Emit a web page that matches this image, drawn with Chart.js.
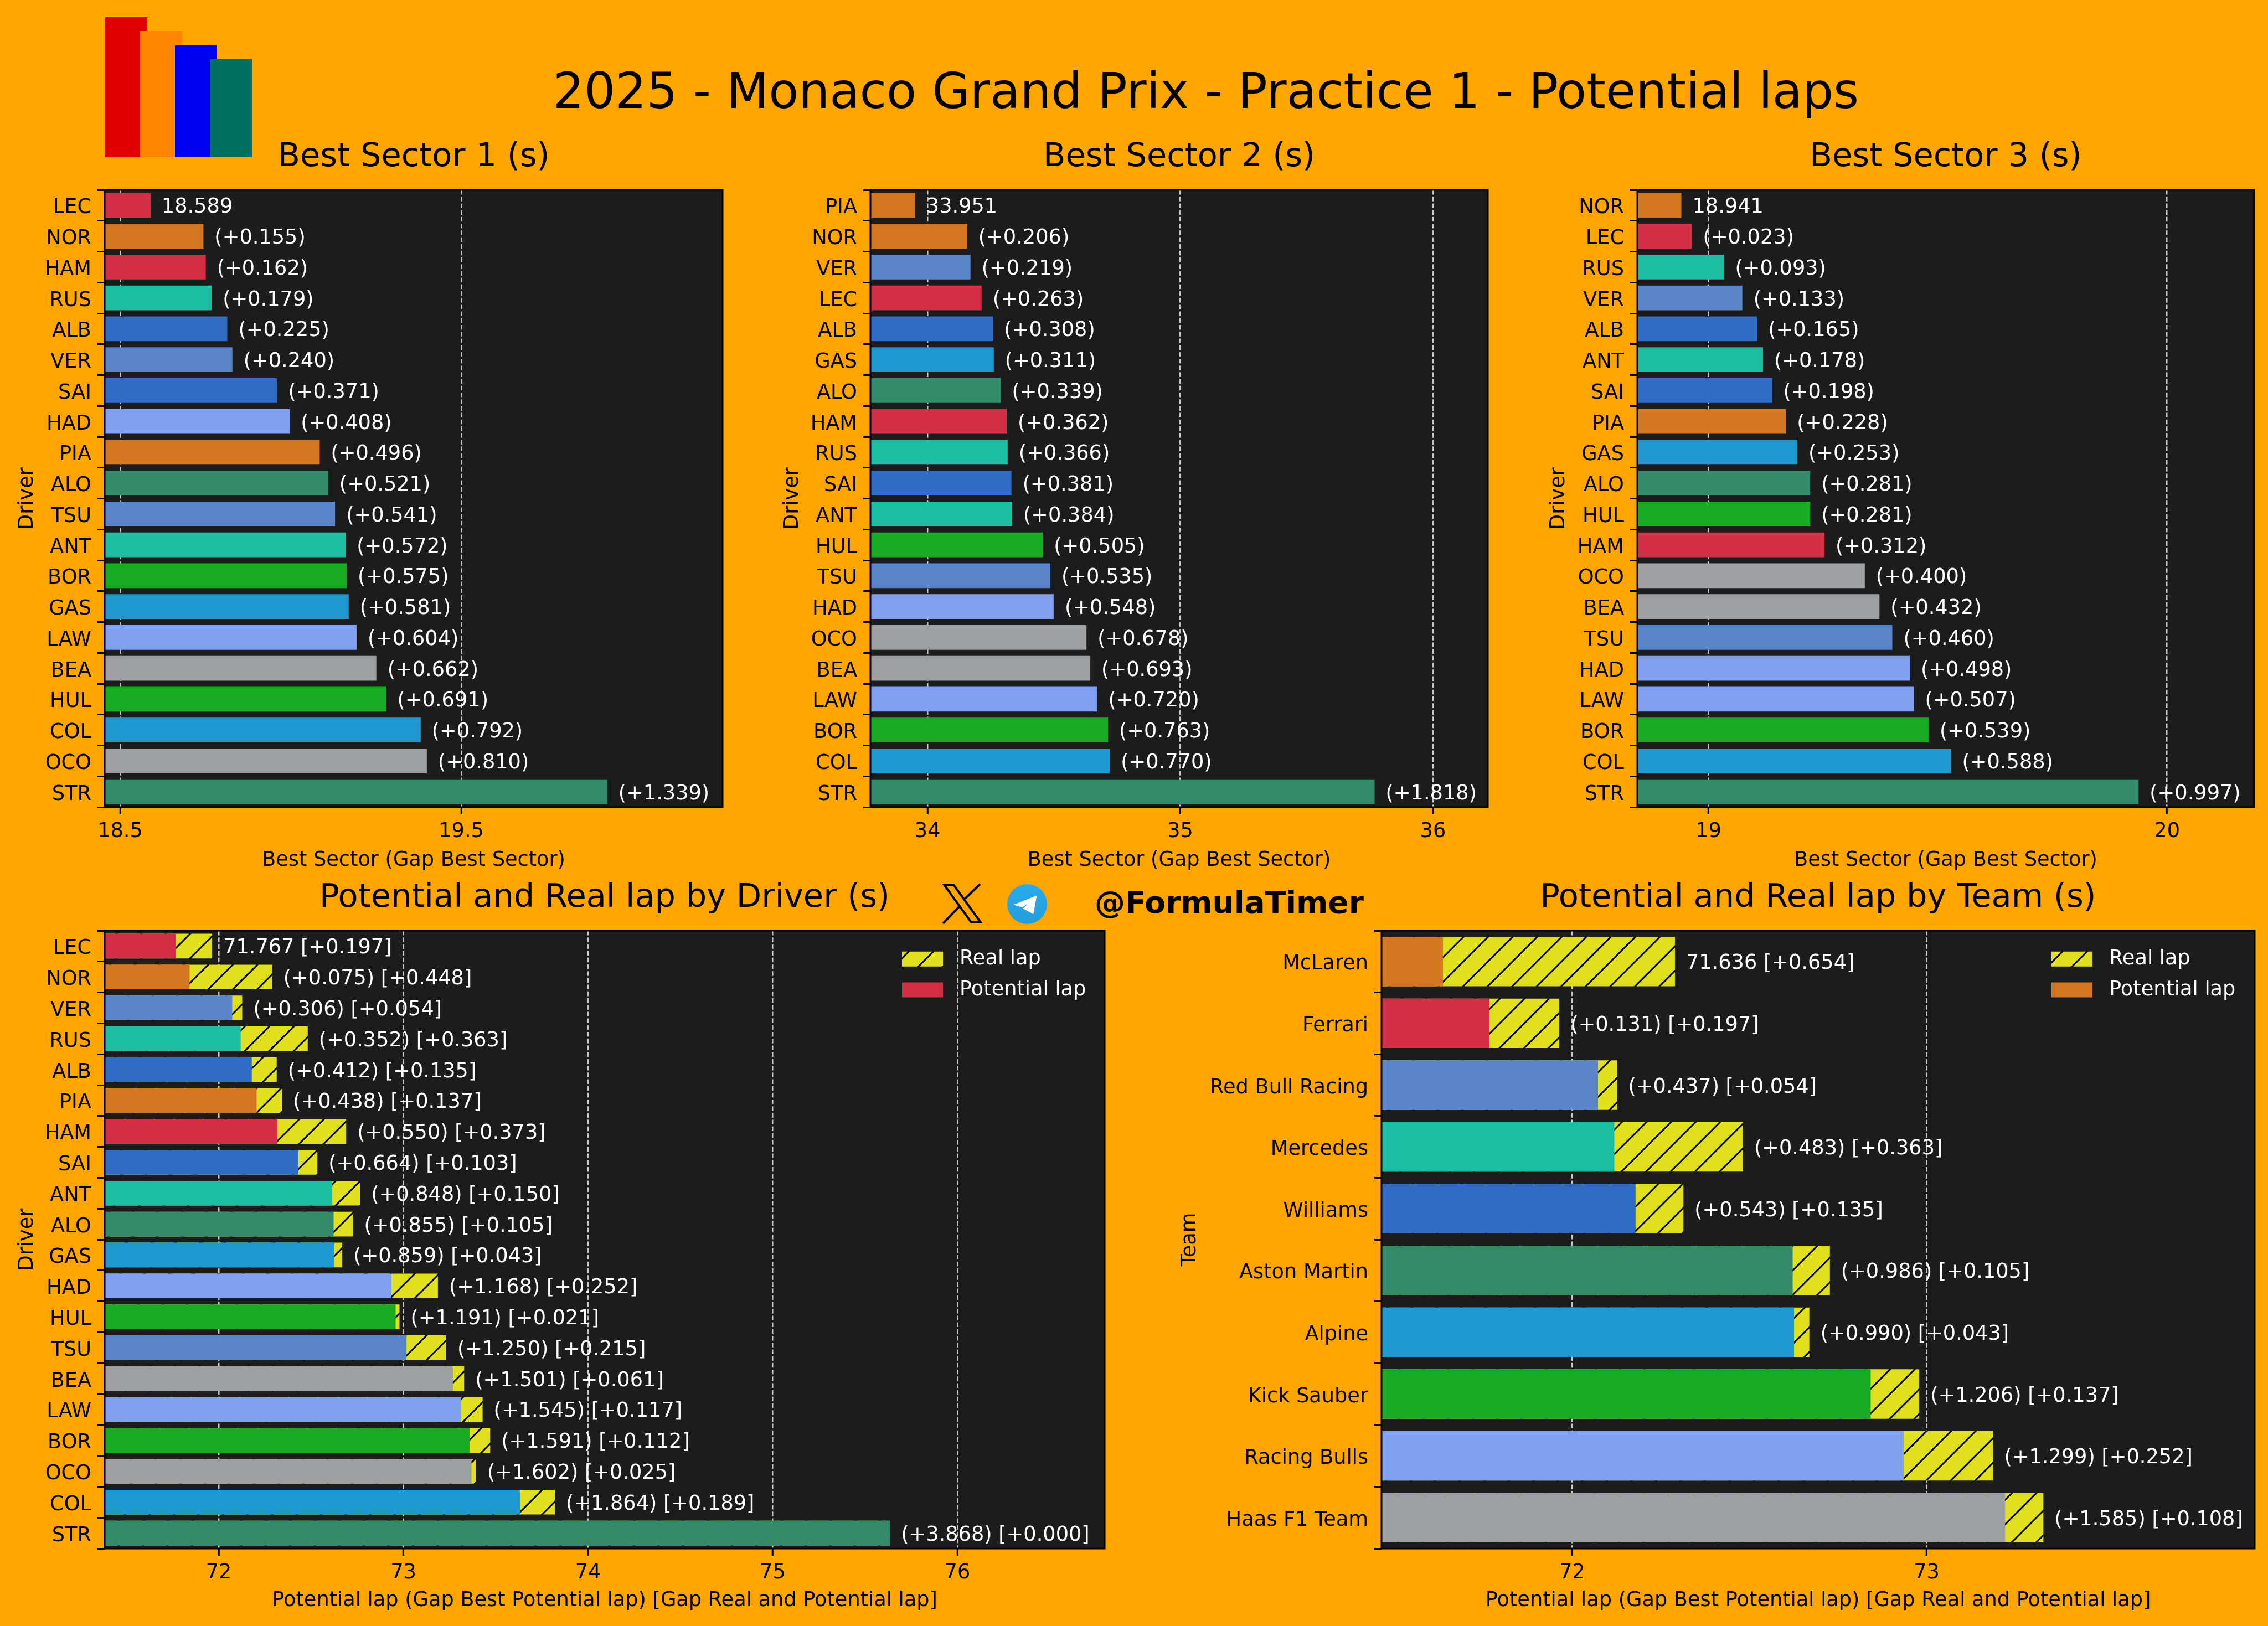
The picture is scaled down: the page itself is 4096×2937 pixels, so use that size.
<!DOCTYPE html>
<html>
<head>
<meta charset="utf-8">
<title>2025 - Monaco Grand Prix - Practice 1 - Potential laps</title>
<script src="https://cdn.jsdelivr.net/npm/chart.js@4"></script>
<style>
    html, body { margin: 0; padding: 0; background: #FFA500; }
    body { position: relative; width: 4096px; height: 2937px; overflow: hidden; font-family: 'DejaVu Sans', sans-serif; }
    canvas { position: absolute; display: block; }
    .logo { position: absolute; }
    #title { position: absolute; left: 2178px; top: 164px; transform: translate(-50%, -50%); font-size: 88.4px; color: #000; white-space: nowrap; }
    #handle { position: absolute; left: 1977px; top: 1630px; transform: translateY(-50%); font-size: 55px; font-weight: bold; color: #000; white-space: nowrap; }
</style>
</head>
<body>
<div class="logo" style="left:190px;top:31px;width:76px;height:253px;background:#E00000"></div>
<div class="logo" style="left:253px;top:56px;width:76px;height:228px;background:#FF8700"></div>
<div class="logo" style="left:316px;top:82px;width:76px;height:202px;background:#0000F0"></div>
<div class="logo" style="left:379px;top:107px;width:76px;height:177px;background:#006F62"></div>
<div id="title">2025 - Monaco Grand Prix - Practice 1 - Potential laps</div>

<canvas id="sector1"></canvas>
<canvas id="sector2"></canvas>
<canvas id="sector3"></canvas>
<canvas id="byDriver"></canvas>
<canvas id="byTeam"></canvas>

<svg class="logo" style="left:1690px;top:1585px" width="100" height="100" viewBox="0 0 100 100">
    <g fill="none" stroke="#000" stroke-width="4">
        <path d="M15 13 L32 13 L81 81 L64 81 Z"/>
        <path d="M53 38 L80 12"/>
        <path d="M13 83 L42 53"/>
    </g>
</svg>
<svg class="logo" style="left:1819px;top:1597px" width="72" height="72" viewBox="0 0 72 72">
    <defs>
        <linearGradient id="tg" x1="0" y1="0" x2="0" y2="1">
            <stop offset="0" stop-color="#2AABEE"/>
            <stop offset="1" stop-color="#229ED9"/>
        </linearGradient>
    </defs>
    <circle cx="36" cy="36" r="36" fill="url(#tg)"/>
    <path d="M52.7 21.3 L12.7 37.3 L27.7 41.3 L41 31.3 L29.3 44 L47 53.7 Z" fill="#fff" stroke="#fff" stroke-width="1" stroke-linejoin="round"/>
</svg>
<div id="handle">@FormulaTimer</div>

<script>
const s1Drivers = ['LEC', 'NOR', 'HAM', 'RUS', 'ALB', 'VER', 'SAI', 'HAD', 'PIA', 'ALO', 'TSU', 'ANT', 'BOR', 'GAS', 'LAW', 'BEA', 'HUL', 'COL', 'OCO', 'STR'];
const s1Times = [18.589, 18.744, 18.751, 18.768, 18.814, 18.829, 18.960, 18.997, 19.085, 19.110, 19.130, 19.161, 19.164, 19.170, 19.193, 19.251, 19.280, 19.381, 19.399, 19.928];
const s1Ticks = [18.5, 19.5];

const s2Drivers = ['PIA', 'NOR', 'VER', 'LEC', 'ALB', 'GAS', 'ALO', 'HAM', 'RUS', 'SAI', 'ANT', 'HUL', 'TSU', 'HAD', 'OCO', 'BEA', 'LAW', 'BOR', 'COL', 'STR'];
const s2Times = [33.951, 34.157, 34.170, 34.214, 34.259, 34.262, 34.290, 34.313, 34.317, 34.332, 34.335, 34.456, 34.486, 34.499, 34.629, 34.644, 34.671, 34.714, 34.721, 35.769];
const s2Ticks = [34, 35, 36];

const s3Drivers = ['NOR', 'LEC', 'RUS', 'VER', 'ALB', 'ANT', 'SAI', 'PIA', 'GAS', 'ALO', 'HUL', 'HAM', 'OCO', 'BEA', 'TSU', 'HAD', 'LAW', 'BOR', 'COL', 'STR'];
const s3Times = [18.941, 18.964, 19.034, 19.074, 19.106, 19.119, 19.139, 19.169, 19.194, 19.222, 19.222, 19.253, 19.341, 19.373, 19.401, 19.439, 19.448, 19.480, 19.529, 19.938];
const s3Ticks = [19, 20];

const lapDrivers = ['LEC', 'NOR', 'VER', 'RUS', 'ALB', 'PIA', 'HAM', 'SAI', 'ANT', 'ALO', 'GAS', 'HAD', 'HUL', 'TSU', 'BEA', 'LAW', 'BOR', 'OCO', 'COL', 'STR'];
const driverPotential = [71.767, 71.842, 72.073, 72.119, 72.179, 72.205, 72.317, 72.431, 72.615, 72.622, 72.626, 72.935, 72.958, 73.017, 73.268, 73.312, 73.358, 73.369, 73.631, 75.635];
const driverReal = [71.964, 72.290, 72.127, 72.482, 72.314, 72.342, 72.690, 72.534, 72.765, 72.727, 72.669, 73.187, 72.979, 73.232, 73.329, 73.429, 73.470, 73.394, 73.820, 75.635];
const driverTicks = [72, 73, 74, 75, 76];

const lapTeams = ['McLaren', 'Ferrari', 'Red Bull Racing', 'Mercedes', 'Williams', 'Aston Martin', 'Alpine', 'Kick Sauber', 'Racing Bulls', 'Haas F1 Team'];
const teamPotential = [71.636, 71.767, 72.073, 72.119, 72.179, 72.622, 72.626, 72.842, 72.935, 73.221];
const teamReal = [72.290, 71.964, 72.127, 72.482, 72.314, 72.727, 72.669, 72.979, 73.187, 73.329];
const teamTicks = [72, 73];

const teamColors = {
    'McLaren': '#D57621',
    'Ferrari': '#D52E47',
    'Red Bull Racing': '#5A85C8',
    'Mercedes': '#1BBEA3',
    'Williams': '#306CC6',
    'Aston Martin': '#338B6C',
    'Alpine': '#1F98CF',
    'Kick Sauber': '#1AAB24',
    'Racing Bulls': '#81A0EF',
    'Haas F1 Team': '#9E9FA1'
};
const driverTeams = {
    LEC: 'Ferrari', HAM: 'Ferrari', NOR: 'McLaren', PIA: 'McLaren', VER: 'Red Bull Racing', TSU: 'Red Bull Racing',
    RUS: 'Mercedes', ANT: 'Mercedes', ALB: 'Williams', SAI: 'Williams', ALO: 'Aston Martin', STR: 'Aston Martin',
    GAS: 'Alpine', COL: 'Alpine', HAD: 'Racing Bulls', LAW: 'Racing Bulls', HUL: 'Kick Sauber', BOR: 'Kick Sauber',
    OCO: 'Haas F1 Team', BEA: 'Haas F1 Team'
};

const FONT = "'DejaVu Sans'";
const TICK_SIZE = 36.7;
const TITLE_SIZE = 59;
const TITLE_GAP = 23;
const LABEL_NUDGE = 4;
const TICK_NUDGE = 5;

function driverColors(drivers) {
    return drivers.map(function (d) { return teamColors[driverTeams[d]]; });
}

// hatch is anchored to the page, so the tile is shifted by where the canvas sits
function hatchPattern(box) {
    const step = 133 / 3;
    const tile = document.createElement('canvas');
    tile.width = 133;
    tile.height = 133;
    const c = tile.getContext('2d');
    c.fillStyle = '#E0E01E';
    c.fillRect(0, 0, 133, 133);
    c.strokeStyle = '#000';
    c.lineWidth = 3;
    c.beginPath();
    const start = (35 - box.left - box.top) % step;
    for (let k = -1; k < 8; k++) {
        const s = start + k * step;
        c.moveTo(s + 10, -10);
        c.lineTo(s - 143, 143);
    }
    c.stroke();
    return c.createPattern(tile, 'repeat');
}

// axes background + spines, the figure is orange and each axes is near black
const axesFrame = {
    id: 'axesFrame',
    beforeDraw(chart) {
        const a = chart.chartArea;
        chart.ctx.save();
        chart.ctx.fillStyle = '#1C1C1C';
        chart.ctx.fillRect(a.left, a.top, a.width, a.height);
        chart.ctx.restore();
    },
    afterDraw(chart) {
        const a = chart.chartArea;
        chart.ctx.save();
        chart.ctx.strokeStyle = '#000';
        chart.ctx.lineWidth = 3;
        chart.ctx.strokeRect(a.left, a.top, a.width, a.height);
        chart.ctx.restore();
    }
};

// text right of each bar
const barLabels = {
    id: 'barLabels',
    afterDatasetsDraw(chart, args, opts) {
        const ctx = chart.ctx;
        ctx.save();
        ctx.fillStyle = '#fff';
        ctx.font = TICK_SIZE + 'px ' + FONT;
        ctx.textBaseline = 'middle';
        opts.ends.forEach(function (v, i) {
            ctx.fillText(opts.texts[i], chart.scales.x.getPixelForValue(v) + 20, chart.scales.y.getPixelForValue(i) + LABEL_NUDGE);
        });
        ctx.restore();
    }
};

// the legend sits inside the axes, chart.js would park it at the canvas corner
const legendSpot = {
    id: 'legendSpot',
    afterLayout(chart, args, opts) {
        if (!opts.x) return;
        const l = chart.legend;
        l.left = opts.x;
        l.top = opts.y;
        l.right = opts.x + l.width;
        l.bottom = opts.y + l.height;
    }
};

function makeChart(cfg) {
    const el = document.getElementById(cfg.id);
    const box = cfg.box;
    const area = cfg.area;
    el.width = box.right - box.left;
    el.height = box.bottom - box.top;
    el.style.left = box.left + 'px';
    el.style.top = box.top + 'px';

    const titleHeight = TITLE_SIZE * 1.2 + TITLE_GAP;

    return new Chart(el, {
        type: 'bar',
        data: { labels: cfg.labels, datasets: cfg.datasets },
        plugins: [axesFrame, barLabels, legendSpot],
        options: {
            indexAxis: 'y',
            responsive: false,
            animation: false,
            devicePixelRatio: 1,
            layout: {
                padding: { top: area.top - box.top - titleHeight, right: box.right - area.right, bottom: 0, left: 0 }
            },
            plugins: {
                axesFrame: {},
                barLabels: { ends: cfg.ends, texts: cfg.texts },
                legendSpot: cfg.legendAt ? { x: cfg.legendAt.x - box.left, y: cfg.legendAt.y - box.top } : {},
                title: {
                    display: true,
                    text: cfg.title,
                    fullSize: false,
                    color: '#000',
                    font: { family: FONT, size: TITLE_SIZE, weight: 'normal' },
                    padding: { top: 0, bottom: TITLE_GAP }
                },
                legend: cfg.legendAt ? {
                    display: true,
                    position: 'chartArea',
                    align: 'start',
                    labels: {
                        color: '#fff',
                        boxWidth: 74,
                        boxHeight: 27,
                        padding: 19,
                        font: { family: FONT, size: TICK_SIZE },
                        generateLabels: function () {
                            return [
                                { text: ' Real lap', fillStyle: cfg.realFill, strokeStyle: 'transparent', lineWidth: 0, fontColor: '#fff', datasetIndex: 0 },
                                { text: ' Potential lap', fillStyle: cfg.colors[0], strokeStyle: 'transparent', lineWidth: 0, fontColor: '#fff', datasetIndex: 1 }
                            ];
                        }
                    }
                } : { display: false },
                tooltip: { enabled: false }
            },
            scales: {
                x: {
                    type: 'linear',
                    min: cfg.min,
                    max: cfg.max,
                    afterFit: function (scale) { scale.height = box.bottom - area.bottom; },
                    afterBuildTicks: function (scale) { scale.ticks = cfg.ticks.map(function (v) { return { value: v }; }); },
                    border: { display: false, dash: [8.5, 3.7] },
                    grid: { color: '#C8C8C8', lineWidth: 2.5, tickColor: '#000', tickLength: 13, tickWidth: 3, tickBorderDash: [] },
                    ticks: { color: '#000', font: { family: FONT, size: TICK_SIZE }, padding: 9, maxRotation: 0, callback: function (v) { return String(v); } },
                    title: { display: true, text: cfg.xTitle, color: '#000', font: { family: FONT, size: TICK_SIZE }, padding: 0 }
                },
                y: {
                    type: 'category',
                    offset: true,
                    afterFit: function (scale) { scale.width = area.left - box.left; },
                    border: { display: false },
                    grid: { display: true, drawOnChartArea: false, tickColor: '#000', tickLength: 13, tickWidth: 3 },
                    ticks: { color: '#000', font: { family: FONT, size: TICK_SIZE }, padding: 11, autoSkip: false, labelOffset: TICK_NUDGE },
                    title: { display: true, text: cfg.yTitle, color: '#000', font: { family: FONT, size: TICK_SIZE }, padding: 0 }
                }
            }
        }
    });
}

function sectorChart(id, title, drivers, times, ticks, min, max, box, area) {
    const colors = driverColors(drivers);
    makeChart({
        id: id, title: title, box: box, area: area, min: min, max: max, ticks: ticks,
        labels: drivers, colors: colors, ends: times,
        texts: times.map(function (t, i) { return i === 0 ? t.toFixed(3) : '(+' + (t - times[0]).toFixed(3) + ')'; }),
        xTitle: 'Best Sector (Gap Best Sector)', yTitle: 'Driver',
        datasets: [{ label: title, data: times, backgroundColor: colors, categoryPercentage: 1, barPercentage: 0.8 }]
    });
}

function lapChart(id, title, names, colors, potential, real, ticks, min, max, box, area, yTitle, legendAt) {
    const realFill = hatchPattern(box);
    makeChart({
        id: id, title: title, box: box, area: area, min: min, max: max, ticks: ticks,
        labels: names, colors: colors, realFill: realFill, ends: real, legendAt: legendAt,
        texts: potential.map(function (p, i) {
            const head = i === 0 ? p.toFixed(3) : '(+' + (p - potential[0]).toFixed(3) + ')';
            return head + ' [+' + (real[i] - p).toFixed(3) + ']';
        }),
        xTitle: 'Potential lap (Gap Best Potential lap) [Gap Real and Potential lap]', yTitle: yTitle,
        datasets: [
            { label: 'Real lap', data: real, backgroundColor: realFill, grouped: false, order: 2, categoryPercentage: 1, barPercentage: 0.8 },
            { label: 'Potential lap', data: potential, backgroundColor: colors, grouped: false, order: 1, categoryPercentage: 1, barPercentage: 0.8 }
        ]
    });
}

sectorChart('sector1', 'Best Sector 1 (s)', s1Drivers, s1Times, s1Ticks, 18.4545, 20.266,
    { left: 27, top: 240, right: 1320, bottom: 1576 }, { left: 189, top: 343, right: 1305, bottom: 1458 });
sectorChart('sector2', 'Best Sector 2 (s)', s2Drivers, s2Times, s2Ticks, 33.774, 36.217,
    { left: 1409, top: 240, right: 2700, bottom: 1576 }, { left: 1572, top: 343, right: 2687, bottom: 1458 });
sectorChart('sector3', 'Best Sector 3 (s)', s3Drivers, s3Times, s3Ticks, 18.845, 20.19,
    { left: 2793, top: 240, right: 4090, bottom: 1576 }, { left: 2957, top: 343, right: 4071, bottom: 1458 });

lapChart('byDriver', 'Potential and Real lap by Driver (s)', lapDrivers, driverColors(lapDrivers), driverPotential, driverReal, driverTicks, 71.382, 76.798,
    { left: 27, top: 1570, right: 2010, bottom: 2913 }, { left: 189, top: 1681, right: 1995, bottom: 2797 }, 'Driver', { x: 1610, y: 1695 });
lapChart('byTeam', 'Potential and Real lap by Team (s)', lapTeams, lapTeams.map(function (t) { return teamColors[t]; }), teamPotential, teamReal, teamTicks, 71.4625, 73.925,
    { left: 2127, top: 1570, right: 4090, bottom: 2913 }, { left: 2495, top: 1681, right: 4072, bottom: 2797 }, 'Team', { x: 3686, y: 1695 });
</script>
</body>
</html>
